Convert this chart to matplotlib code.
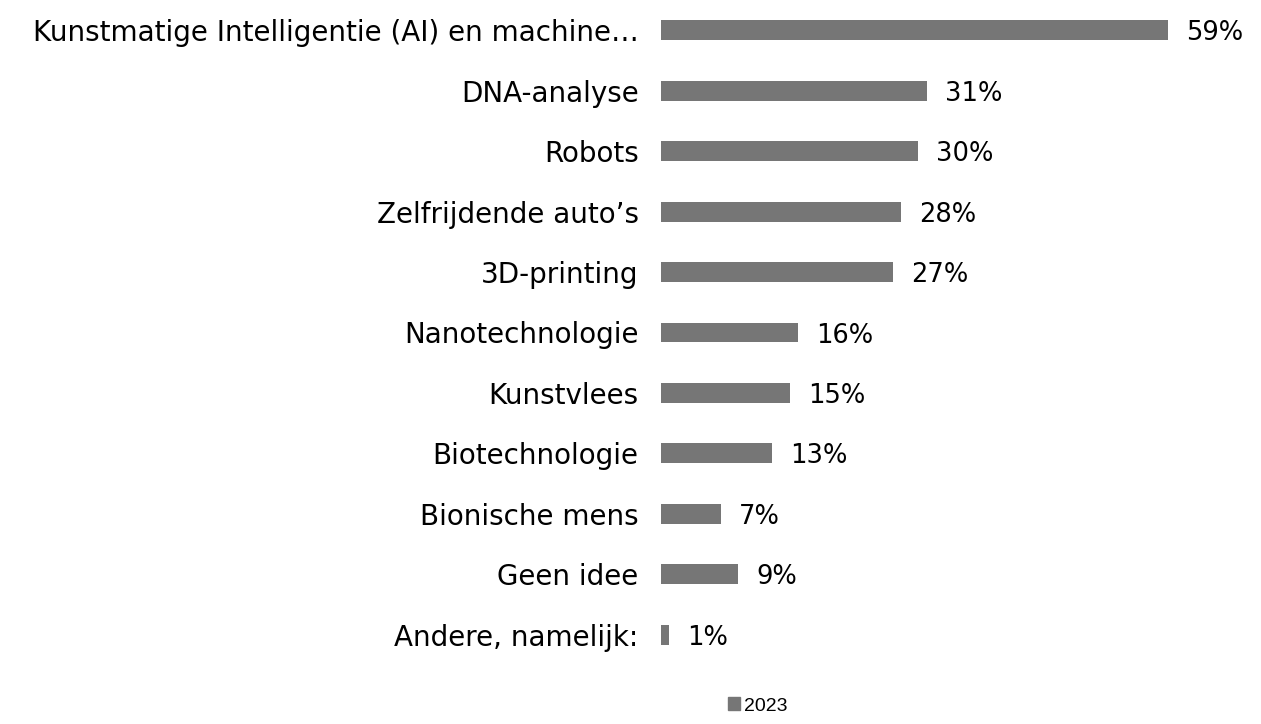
import matplotlib.pyplot as plt
from matplotlib.patches import Patch

categories = ["Kunstmatige Intelligentie (AI) en machine…", "DNA-analyse", "Robots",
              "Zelfrijdende auto’s", "3D-printing", "Nanotechnologie", "Kunstvlees",
              "Biotechnologie", "Bionische mens", "Geen idee", "Andere, namelijk:"]
values = [59, 31, 30, 28, 27, 16, 15, 13, 7, 9, 1]
series_name = "2023"

plt.rcParams['font.family'] = ['DejaVu Sans']

fig = plt.figure(figsize=(12.61, 7.24), dpi=100)
ax = fig.add_axes([0.524, 0.0815, 0.47, 0.9185])

y = list(range(len(categories)))
bars = ax.barh(y, values, height=0.33, color='#767676')
ax.set_ylim(len(categories) - 0.5, -0.5)
ax.set_xlim(0, 69)
ax.set_yticks(y)
ax.set_yticklabels(categories, fontsize=20)
ax.tick_params(axis='y', length=0, pad=16)
ax.set_xticks([])
for s in ax.spines.values():
    s.set_visible(False)

for b, v in zip(bars, values):
    ax.text(b.get_width() + 2.1, b.get_y() + b.get_height() / 2 + 0.05, f"{v}%",
            va='center', ha='left', fontsize=18.5, color='black')

fig.legend(handles=[Patch(color='#767676', label=series_name)], loc='center',
           bbox_to_anchor=(758 / 1261, 1 - 706 / 724), frameon=False,
           handlelength=0.6, handleheight=0.6, handletextpad=0.2,
           prop={'family': 'Liberation Sans', 'size': 14})

fig.savefig('out.png', dpi=100)
